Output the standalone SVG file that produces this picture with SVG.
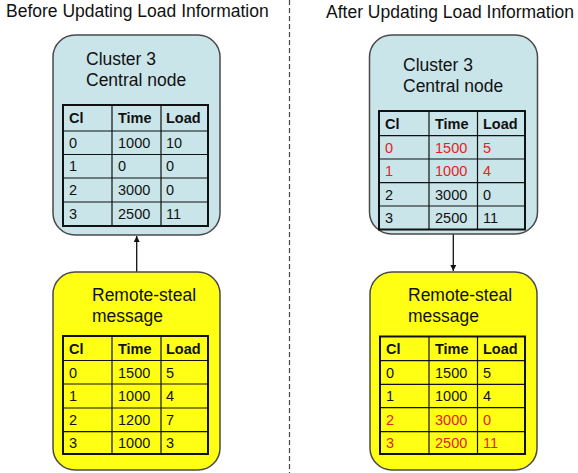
<svg xmlns="http://www.w3.org/2000/svg" width="578" height="473" viewBox="0 0 578 473">
<style>
text{font-family:"Liberation Sans",Arial,sans-serif;fill:#111}
.hd{font-size:17.5px}
.tt{font-size:17.5px}
.c{font-size:14.5px}
.b{font-weight:bold}
.r{fill:#e32222}
.blue{fill:#cae5e9;stroke:#4a4a4a;stroke-width:1.5}
.yel{fill:#ffff14;stroke:#4a4a4a;stroke-width:1.5}
.tbl{fill:none;stroke:#111;stroke-width:2}
.gl{stroke:#111;stroke-width:1.2}
.conn{stroke:#111;stroke-width:1.3;fill:none}
</style>
<defs>
<marker id="ah" viewBox="0 0 10 10" refX="10" refY="5" markerWidth="6" markerHeight="6" markerUnits="userSpaceOnUse" orient="auto">
<path d="M0,0 L10,5 L0,10 z" fill="#111"/>
</marker>
</defs>
<rect width="578" height="473" fill="#fff"/>
<line x1="289.5" y1="0" x2="289.5" y2="473" stroke="#444" stroke-width="1.2" stroke-dasharray="5,3"/>
<text class="hd" x="6" y="17">Before Updating Load Information</text>
<text class="hd" x="326" y="18">After Updating Load Information</text>

<g id="connectors">
<line class="conn" x1="136.7" y1="272" x2="136.7" y2="236" marker-end="url(#ah)"/>
<line class="conn" x1="453.3" y1="234" x2="453.3" y2="271" marker-end="url(#ah)"/>
</g>

<g id="before-central">
<rect class="blue" x="53" y="35" width="167" height="200" rx="22"/>
<text class="tt" x="86" y="65">Cluster 3</text>
<text class="tt" x="86" y="86">Central node</text>
<rect class="tbl" x="63" y="105" width="145" height="121"/>
<path class="gl" d="M63,131H208M63,154.5H208M63,178H208M63,202H208M112,105V226M161,105V226"/>
<text class="c b" x="69" y="123">Cl</text><text class="c b" x="118" y="123">Time</text><text class="c b" x="166" y="123">Load</text>
<text class="c" x="69" y="148">0</text><text class="c" x="118" y="148">1000</text><text class="c" x="166" y="148">10</text>
<text class="c" x="69" y="171">1</text><text class="c" x="118" y="171">0</text><text class="c" x="166" y="171">0</text>
<text class="c" x="69" y="195">2</text><text class="c" x="118" y="195">3000</text><text class="c" x="166" y="195">0</text>
<text class="c" x="69" y="219">3</text><text class="c" x="118" y="219">2500</text><text class="c" x="166" y="219">11</text>
</g>

<g id="before-message">
<rect class="yel" x="53" y="272" width="167" height="198" rx="22"/>
<text class="tt" x="92" y="301">Remote-steal</text>
<text class="tt" x="92" y="322">message</text>
<rect class="tbl" x="63" y="336" width="145" height="118"/>
<path class="gl" d="M63,360.5H208M63,384H208M63,408H208M63,431.7H208M112,336V454M161,336V454"/>
<text class="c b" x="69" y="354">Cl</text><text class="c b" x="118" y="354">Time</text><text class="c b" x="166" y="354">Load</text>
<text class="c" x="69" y="378">0</text><text class="c" x="118" y="378">1500</text><text class="c" x="166" y="378">5</text>
<text class="c" x="69" y="401">1</text><text class="c" x="118" y="401">1000</text><text class="c" x="166" y="401">4</text>
<text class="c" x="69" y="425">2</text><text class="c" x="118" y="425">1200</text><text class="c" x="166" y="425">7</text>
<text class="c" x="69" y="448">3</text><text class="c" x="118" y="448">1000</text><text class="c" x="166" y="448">3</text>
</g>

<g id="after-central">
<rect class="blue" x="369.5" y="35" width="168" height="199" rx="22"/>
<text class="tt" x="403" y="71">Cluster 3</text>
<text class="tt" x="403" y="92">Central node</text>
<rect class="tbl" x="379" y="111" width="146" height="118.5"/>
<path class="gl" d="M379,135.7H525M379,159H525M379,182.7H525M379,206H525M429,111V229.5M477.5,111V229.5"/>
<text class="c b" x="385" y="129">Cl</text><text class="c b" x="435" y="129">Time</text><text class="c b" x="483" y="129">Load</text>
<text class="c r" x="385" y="153">0</text><text class="c r" x="435" y="153">1500</text><text class="c r" x="483" y="153">5</text>
<text class="c r" x="385" y="176">1</text><text class="c r" x="435" y="176">1000</text><text class="c r" x="483" y="176">4</text>
<text class="c" x="385" y="200">2</text><text class="c" x="435" y="200">3000</text><text class="c" x="483" y="200">0</text>
<text class="c" x="385" y="223">3</text><text class="c" x="435" y="223">2500</text><text class="c" x="483" y="223">11</text>
</g>

<g id="after-message">
<rect class="yel" x="370" y="272" width="167" height="198" rx="22"/>
<text class="tt" x="408" y="301">Remote-steal</text>
<text class="tt" x="408" y="322">message</text>
<rect class="tbl" x="380" y="336.5" width="145" height="117.5"/>
<path class="gl" d="M380,360.7H525M380,384.3H525M380,407.7H525M380,431.7H525M429,336.5V454M477.5,336.5V454"/>
<text class="c b" x="386" y="354">Cl</text><text class="c b" x="435" y="354">Time</text><text class="c b" x="483" y="354">Load</text>
<text class="c" x="386" y="378">0</text><text class="c" x="435" y="378">1500</text><text class="c" x="483" y="378">5</text>
<text class="c" x="386" y="401">1</text><text class="c" x="435" y="401">1000</text><text class="c" x="483" y="401">4</text>
<text class="c r" x="386" y="425">2</text><text class="c r" x="435" y="425">3000</text><text class="c r" x="483" y="425">0</text>
<text class="c r" x="386" y="448">3</text><text class="c r" x="435" y="448">2500</text><text class="c r" x="483" y="448">11</text>
</g>
</svg>
